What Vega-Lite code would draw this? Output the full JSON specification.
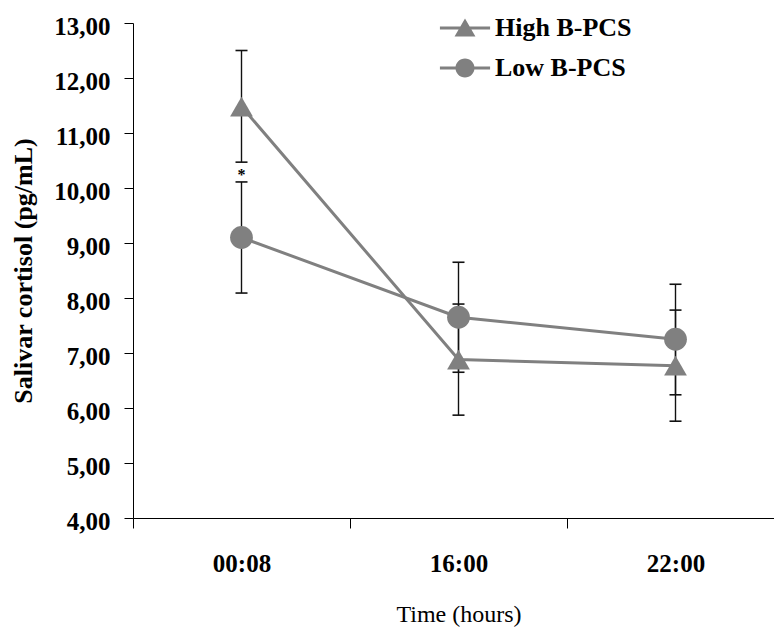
{
  "$schema": "https://vega.github.io/schema/vega-lite/v6.json",
  "autosize": {"type": "none"},
  "padding": {"left": 133, "top": 23, "right": 0, "bottom": 113},
  "width": 641,
  "height": 495,
  "background": "white",
  "config": {
    "view": {"stroke": null},
    "font": "Liberation Serif",
    "axis": {"grid": false, "domainColor": "#000000", "tickColor": "#000000", "labelColor": "#000000", "titleColor": "#000000", "labelFont": "Liberation Serif", "titleFont": "Liberation Serif"}
  },
  "datasets": {
    "main": [
      {"time": "00:08", "group": "High B-PCS", "mean": 11.48, "lo": 10.47, "hi": 12.5},
      {"time": "00:08", "group": "Low B-PCS", "mean": 9.1, "lo": 8.09, "hi": 10.11},
      {"time": "16:00", "group": "High B-PCS", "mean": 6.88, "lo": 5.87, "hi": 7.89},
      {"time": "16:00", "group": "Low B-PCS", "mean": 7.65, "lo": 6.65, "hi": 8.65},
      {"time": "22:00", "group": "High B-PCS", "mean": 6.77, "lo": 5.76, "hi": 7.78},
      {"time": "22:00", "group": "Low B-PCS", "mean": 7.25, "lo": 6.24, "hi": 8.25}
    ],
    "notes": [
      {"time": "00:08", "y": 10.24, "label": "*"}
    ]
  },
  "resolve": {"scale": {"shape": "independent"}, "legend": {"shape": "independent"}},
  "encoding": {
    "x": {
      "field": "time", "type": "ordinal",
      "sort": ["00:08", "16:00", "22:00"],
      "scale": {"range": [0, 651], "paddingInner": 0, "paddingOuter": 0},
      "axis": {
        "labelAngle": 0, "tickBand": "extent", "tickSize": 10, "labelPadding": 23,
        "labelFontSize": 25, "labelFontWeight": "bold",
        "title": "Time (hours)", "titleFontSize": 24, "titleFontWeight": "normal", "titlePadding": 26
      }
    }
  },
  "layer": [
    {
      "data": {"name": "main"},
      "mark": {"type": "rule", "color": "#111111", "strokeWidth": 1.4},
      "encoding": {
        "y": {"field": "lo", "type": "quantitative"},
        "y2": {"field": "hi"}
      }
    },
    {
      "data": {"name": "main"},
      "mark": {"type": "tick", "color": "#111111", "size": 12, "thickness": 1.6, "opacity": 1},
      "encoding": {"y": {"field": "lo", "type": "quantitative"}}
    },
    {
      "data": {"name": "main"},
      "mark": {"type": "tick", "color": "#111111", "size": 12, "thickness": 1.6, "opacity": 1},
      "encoding": {"y": {"field": "hi", "type": "quantitative"}}
    },
    {
      "data": {"name": "main"},
      "mark": {"type": "line", "color": "#808080", "strokeWidth": 3},
      "encoding": {
        "y": {"field": "mean", "type": "quantitative"},
        "detail": {"field": "group"}
      }
    },
    {
      "data": {"name": "main"},
      "mark": {"type": "point", "filled": true, "color": "#808080", "opacity": 1, "size": 520},
      "encoding": {
        "y": {
          "field": "mean", "type": "quantitative",
          "scale": {"domain": [4, 13], "nice": false, "zero": false},
          "axis": {
            "values": [4, 5, 6, 7, 8, 9, 10, 11, 12, 13],
            "labelExpr": "replace(format(datum.value, '.2f'), '.', ',')",
            "tickSize": 9, "labelPadding": 14, "labelOffset": 3,
            "labelFontSize": 25, "labelFontWeight": "bold",
            "title": "Salivar cortisol (pg/mL)", "titleFontSize": 26, "titleFontWeight": "bold", "titlePadding": 17
          }
        },
        "shape": {
          "field": "group", "type": "nominal",
          "scale": {"domain": ["High B-PCS", "Low B-PCS"], "range": ["triangle-up", "circle"]},
          "legend": null
        }
      }
    },
    {
      "data": {"name": "main"},
      "mark": {"type": "point", "filled": true, "color": "#808080", "opacity": 0, "size": 10},
      "encoding": {
        "y": {"field": "mean", "type": "quantitative"},
        "shape": {
          "field": "group", "type": "nominal",
          "scale": {"domain": ["High B-PCS", "Low B-PCS"], "range": ["M-1.32,-0.08H1.32V0.08H-1.32Z M0,-0.5L0.55,0.45H-0.55Z", "M-1.32,-0.08H1.32V0.08H-1.32Z M0.5,0A0.5,0.5 0 1,1 -0.5,0A0.5,0.5 0 1,1 0.5,0Z"]},
          "legend": {
            "title": null, "orient": "none", "legendX": 313, "legendY": -14,
            "padding": 0, "rowPadding": 8, "symbolSize": 1444, "labelOffset": 11,
            "labelFont": "Liberation Serif", "labelFontSize": 26, "labelFontWeight": "bold", "labelColor": "#000000",
            "symbolFillColor": "#808080", "symbolStrokeWidth": 0, "symbolOpacity": 1
          }
        }
      }
    },
    {
      "data": {"name": "notes"},
      "mark": {"type": "text", "color": "#000000", "fontSize": 16, "font": "Liberation Serif", "fontWeight": "bold", "baseline": "middle", "align": "center"},
      "encoding": {
        "y": {"field": "y", "type": "quantitative"},
        "text": {"field": "label"}
      }
    }
  ]
}
